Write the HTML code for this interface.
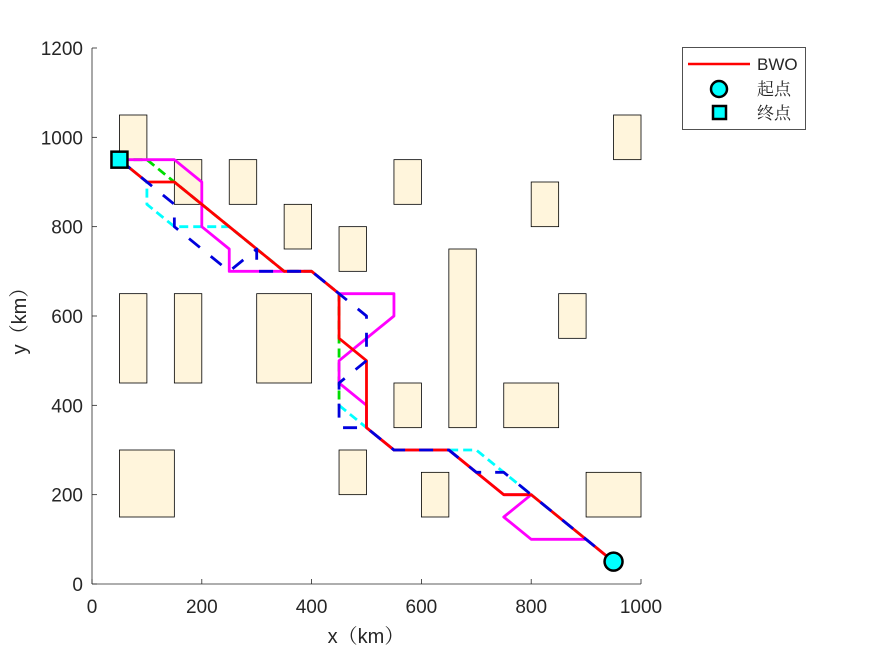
<!DOCTYPE html>
<html><head><meta charset="utf-8"><style>
html,body{margin:0;padding:0;background:#fff;}
svg text{font-family:"Liberation Sans","Noto Serif CJK SC",sans-serif;fill:#262626;}
</style></head><body>
<svg id="s" width="875" height="656" xmlns="http://www.w3.org/2000/svg"></svg>
<script>
const s=document.getElementById('s');
const X=x=>92+x*0.549, Y=y=>584-y*0.44667;
let h='';
const obs=[[50,950,100,1050],[150,850,200,950],[250,850,300,950],[350,750,400,850],[450,700,500,800],[550,850,600,950],[800,800,850,900],[950,950,1000,1050],[50,450,100,650],[150,450,200,650],[300,450,400,650],[650,350,700,750],[550,350,600,450],[750,350,850,450],[850,550,900,650],[50,150,150,300],[450,200,500,300],[600,150,650,250],[900,150,1000,250]];
for(const o of obs){h+=`<rect x="${X(o[0])}" y="${Y(o[3])}" width="${X(o[2])-X(o[0])}" height="${Y(o[1])-Y(o[3])}" fill="#fff5dc" stroke="#000" stroke-width="0.8"/>`;}
h+=`<line x1="92" y1="584" x2="641" y2="584" stroke="#262626" stroke-width="0.8"/><line x1="92" y1="48" x2="92" y2="584" stroke="#262626" stroke-width="0.8"/>`;
for(let v=0;v<=1000;v+=200){const x=X(v);h+=`<line x1="${x}" y1="584" x2="${x}" y2="579" stroke="#262626" stroke-width="0.8"/><text x="${x}" y="613" font-size="19" text-anchor="middle">${v}</text>`;}
for(let v=0;v<=1200;v+=200){const y=Y(v);h+=`<line x1="92" y1="${y}" x2="97" y2="${y}" stroke="#262626" stroke-width="0.8"/><text x="83" y="${y+7}" font-size="19" text-anchor="end">${v}</text>`;}
h+=`<text x="366" y="643" font-size="20" text-anchor="middle">x（km）</text>`;
h+=`<text transform="translate(26,316) rotate(-90)" font-size="20" text-anchor="middle">y（km）</text>`;
function path(pts,col,dash,w){w=w||2.8;h+=`<polyline points="${pts.map(p=>X(p[0])+','+Y(p[1])).join(' ')}" fill="none" stroke="${col}" stroke-width="${w}" ${dash?`stroke-dasharray="${dash}"`:''} stroke-linejoin="round"/>`;}
path([[50,950],[100,950],[150,900],[350,700],[400,700],[450,650],[450,550],[450,400]],'#00dd00','9 5');
path([[50,950],[100,900],[100,850],[150,800],[250,800],[350,700],[400,700],[450,650]],'#00ffff','9 5');
path([[450,400],[500,350],[550,300],[650,300],[700,300],[800,200],[950,50]],'#00ffff','9 5');
path([[50,950],[150,950],[200,900],[200,800],[250,750],[250,700],[400,700],[450,650],[550,650],[550,600],[450,500],[450,450],[500,400],[500,350],[550,300],[650,300],[750,200],[800,200],[750,150],[800,100],[900,100],[950,50]],'#ff00ff');
path([[50,950],[100,900],[150,900],[350,700],[400,700],[450,650],[450,550],[500,500],[500,350],[550,300],[650,300],[750,200],[800,200],[950,50]],'#ff0000');
path([[50,950],[150,850],[150,800],[250,700],[300,750],[300,700],[400,700],[450,650],[500,600],[500,500],[450,450],[450,350],[500,350],[550,300],[650,300],[700,250],[750,250],[800,200],[950,50]],'#0000dd','14 14');
h+=`<circle cx="${X(950)}" cy="${Y(50)}" r="9" fill="#00ffff" stroke="#000" stroke-width="2.5"/>`;
h+=`<rect x="${X(50)-8}" y="${Y(950)-8}" width="16" height="16" fill="#00ffff" stroke="#000" stroke-width="2.5"/>`;
h+=`<rect x="682.5" y="47.5" width="123" height="82" fill="#fff" stroke="#262626" stroke-width="0.8"/>`;
h+=`<line x1="688" y1="64" x2="750" y2="64" stroke="#ff0000" stroke-width="2.5"/>`;
h+=`<text x="757" y="70" font-size="17" fill="#000">BWO</text>`;
h+=`<circle cx="719" cy="89" r="8" fill="#00ffff" stroke="#000" stroke-width="2.5"/>`;
h+=`<text x="757" y="95" font-size="17" fill="#000">起点</text>`;
h+=`<rect x="713" y="106" width="13" height="13" fill="#00ffff" stroke="#000" stroke-width="2.5"/>`;
h+=`<text x="757" y="119" font-size="17" fill="#000">终点</text>`;
s.innerHTML=h;
</script>
</body></html>
